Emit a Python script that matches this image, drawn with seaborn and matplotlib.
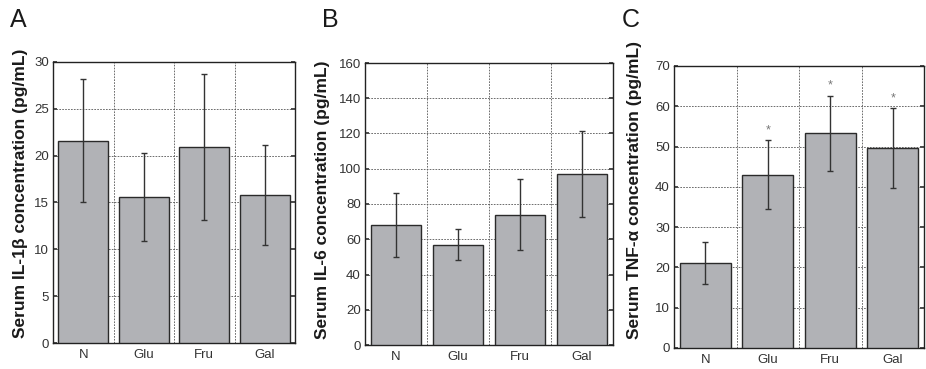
import matplotlib
matplotlib.use("Agg")
import matplotlib.pyplot as plt
import seaborn as sns
import pandas as pd
import numpy as np

categories = ["N", "Glu", "Fru", "Gal"]
il1b_mean = [21.6, 15.6, 20.9, 15.8]
il1b_err = [6.6, 4.7, 7.8, 5.35]
il6_mean = [68, 57, 74, 97]
il6_err = [18, 9, 20, 24.5]
tnf_mean = [21.0, 43.0, 53.3, 49.6]
tnf_err = [5.2, 8.6, 9.3, 9.9]
tnf_sig = ["", "*", "*", "*"]

panels = [
    ("A", "Serum IL-1β concentration (pg/mL)", il1b_mean, il1b_err, None, 30, 5),
    ("B", "Serum IL-6 concentration (pg/mL)", il6_mean, il6_err, None, 160, 20),
    ("C", "Serum TNF-α concentration (pg/mL)", tnf_mean, tnf_err, tnf_sig, 70, 10),
]

sns.set_theme(style="white")
plt.rcParams['font.family'] = ['Liberation Sans', 'DejaVu Sans']

fig = plt.figure(figsize=(9.26, 3.69), dpi=100)
W, H = 926, 369
boxes = [(53, 62, 295, 343), (365, 63, 613, 345), (674, 66, 924, 348)]
letter_x = [10, 322, 622]
label_pos = [(-0.103, 0.534), (-0.141, 0.514), (-0.128, 0.56)]

bar_color = "#b1b2b6"
edge_color = "#2a2a2a"

for (letter, ylabel, means, errs, sig, ymax, step), (l, t, r, b), lx, lp in zip(panels, boxes, letter_x, label_pos):
    ax = fig.add_axes([l / W, 1 - b / H, (r - l) / W, (b - t) / H])
    df = pd.DataFrame({"group": categories, "value": means})
    sns.barplot(data=df, x="group", y="value", ax=ax, color=bar_color,
                edgecolor=edge_color, linewidth=1.0, width=0.82, errorbar=None,
                saturation=1, zorder=3)
    x = np.arange(len(categories))
    ax.errorbar(x, means, yerr=errs, fmt="none", ecolor="#333333",
                elinewidth=1.0, capsize=2, capthick=1.0, zorder=4)
    if sig is not None:
        for xi, m, e, s in zip(x, means, errs, sig):
            if s:
                ax.text(xi, m + e + 1.0, s, ha="center", va="bottom",
                        fontsize=9, color="#777777", zorder=5)
    ax.set_xlim(-0.5, len(categories) - 0.5)
    ax.set_ylim(0, ymax)
    ax.set_yticks(np.arange(0, ymax + step / 2, step))
    for yy in np.arange(step, ymax, step):
        ax.axhline(yy, color="#555555", lw=0.6, ls=(0, (2, 1.5)), zorder=1)
    for xx in np.arange(0.5, len(categories) - 0.5, 1):
        ax.axvline(xx, color="#555555", lw=0.6, ls=(0, (2, 1.5)), zorder=1)
    ax.set_xlabel("")
    ax.set_ylabel(ylabel, fontsize=12.5, fontweight="bold", color="#1a1a1a")
    ax.yaxis.set_label_coords(lp[0], lp[1])
    ax.tick_params(axis="both", labelsize=9.5, colors="#333333", length=3,
                   direction="in", right=True, left=True, bottom=False, pad=3)
    ax.tick_params(axis="x", pad=4)
    for sp in ax.spines.values():
        sp.set_visible(True)
        sp.set_color("#222222")
        sp.set_linewidth(1.0)
    fig.text(lx / W, 1 - 20 / H, letter, fontsize=18, color="#1a1a1a",
             ha="left", va="center")

fig.savefig("out.png", dpi=100)
